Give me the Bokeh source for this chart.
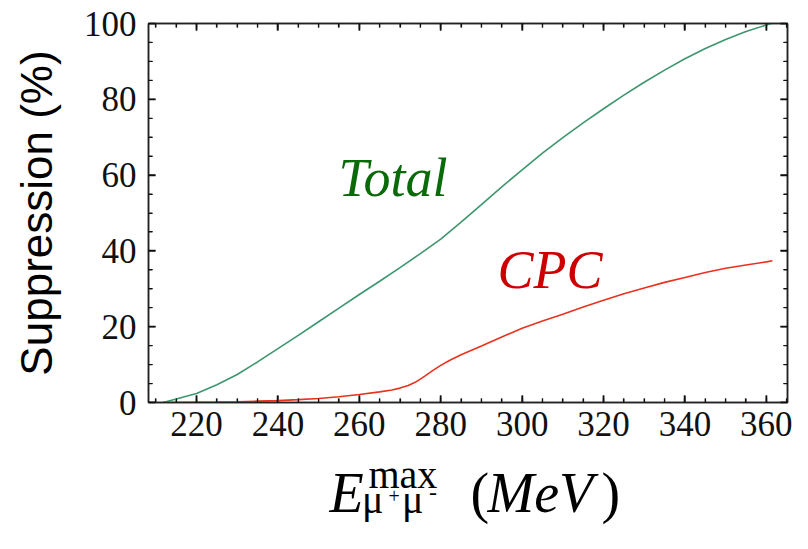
from bokeh.plotting import figure
from bokeh.models import Range1d, SingleIntervalTicker, Label, LinearAxis, CustomJSTickFormatter
from bokeh.layouts import column
from bokeh.embed import file_html
from bokeh.resources import INLINE

# ---- data ----
total_E = [211.8, 215, 220, 225, 230, 235, 240, 245, 250, 255, 260, 265, 270, 275,
           280, 285, 290, 295, 300, 305, 310, 315, 320, 325, 330, 335, 340, 345,
           350, 355, 360, 361.2]
total_S = [0.0, 0.9, 2.4, 4.7, 7.4, 10.7, 14.2, 17.7, 21.3, 24.9, 28.5, 32.0, 35.6, 39.3,
           43.1, 47.6, 52.2, 56.9, 61.4, 65.8, 69.9, 73.8, 77.5, 81.1, 84.5, 87.7, 90.7, 93.4,
           95.8, 97.9, 99.6, 100.0]

cpc_E = [211.8, 215, 220, 225, 230, 235, 240, 245, 250, 255, 260, 265, 268, 270, 272,
         274, 276, 278, 280, 282, 285, 288, 290, 295, 300, 305, 310, 315, 320, 325,
         330, 335, 340, 345, 350, 355, 360, 361.5]
cpc_S = [0.0, 0.0, 0.05, 0.1, 0.2, 0.35, 0.5, 0.75, 1.05, 1.5, 2.1, 2.8, 3.3, 3.8, 4.5,
         5.5, 6.9, 8.4, 9.8, 11.0, 12.6, 14.0, 14.9, 17.3, 19.6, 21.5, 23.3, 25.2, 27.0, 28.7,
         30.2, 31.7, 33.0, 34.3, 35.4, 36.3, 37.1, 37.4]

# tick values
x_major = [220, 240, 260, 280, 300, 320, 340, 360]
x_minor = [210, 215, 225, 230, 235, 245, 250, 255, 265, 270, 275, 285, 290, 295,
           305, 310, 315, 325, 330, 335, 345, 350, 355, 365]
y_major = [0, 20, 40, 60, 80, 100]
y_minor = [5, 10, 15, 25, 30, 35, 45, 50, 55, 65, 70, 75, 85, 90, 95]

X0, X1 = 208.2, 365.2
Y0, Y1 = 0, 100

SERIF = "Liberation Serif"
SANS = "Liberation Sans"
BL, BR, BT, BB = 148, 21, 23, 48
PH = 450
FRAME_H = PH - BT - BB
FRAME_W = 808 - BL - BR
PX_X = FRAME_W / (X1 - X0)     # px per MeV
PX_Y = FRAME_H / (Y1 - Y0)     # px per %
BASE = 0.34                    # baseline correction (fraction of font size)

p = figure(width=808, height=PH, output_backend="svg", toolbar_location=None,
           x_range=Range1d(X0, X1), y_range=Range1d(Y0, Y1),
           min_border_left=BL, min_border_right=BR, min_border_top=BT,
           min_border_bottom=BB)
p.background_fill_color = "white"
p.border_fill_color = "white"
p.grid.visible = False
p.outline_line_color = "#222222"
p.outline_line_width = 1.5

xt = SingleIntervalTicker(interval=20, num_minor_ticks=4)
yt = SingleIntervalTicker(interval=20, num_minor_ticks=4)
p.xaxis.ticker = xt
p.yaxis.ticker = yt


def style_axis(ax):
    ax.axis_line_color = "#222222"
    ax.axis_line_width = 1.5
    ax.major_tick_line_color = "#111111"
    ax.minor_tick_line_color = "#111111"
    ax.major_tick_line_width = 1.5
    ax.minor_tick_line_width = 1.2
    ax.major_tick_out = 0
    ax.minor_tick_out = 0
    ax.major_tick_in = 7
    ax.minor_tick_in = 4


for ax in (p.xaxis[0], p.yaxis[0]):
    style_axis(ax)
    ax.major_label_text_font = SERIF
    ax.major_label_text_font_size = "35px"
    ax.major_label_text_color = "#111111"

p.xaxis.major_label_standoff = 9
p.yaxis.major_label_standoff = 12
p.yaxis.axis_label = "Suppression (%)"
p.yaxis.axis_label_text_font = SANS
p.yaxis.axis_label_text_font_style = "normal"
p.yaxis.axis_label_text_font_size = "44px"
p.yaxis.axis_label_text_color = "black"
p.yaxis.axis_label_standoff = 20

blank = CustomJSTickFormatter(code="return ''")
for loc, tk in (("above", xt), ("right", yt)):
    ax = LinearAxis(ticker=tk, formatter=blank)
    style_axis(ax)
    ax.major_label_standoff = 0
    p.add_layout(ax, loc)

# inward ticks on all four sides (also drawn as glyphs)
TK = "#111111"
maj_y, min_y = 7 / PX_Y, 4 / PX_Y
maj_x, min_x = 7 / PX_X, 4 / PX_X
for vals, ln, w in ((x_major, maj_y, 1.5), (x_minor, min_y, 1.2)):
    p.segment(x0=vals, y0=[Y0] * len(vals), x1=vals, y1=[Y0 + ln] * len(vals),
              line_color=TK, line_width=w)
    p.segment(x0=vals, y0=[Y1] * len(vals), x1=vals, y1=[Y1 - ln] * len(vals),
              line_color=TK, line_width=w)
for vals, ln, w in ((y_major, maj_x, 1.5), (y_minor, min_x, 1.2)):
    p.segment(x0=[X0] * len(vals), y0=vals, x1=[X0 + ln] * len(vals), y1=vals,
              line_color=TK, line_width=w)
    p.segment(x0=[X1] * len(vals), y0=vals, x1=[X1 - ln] * len(vals), y1=vals,
              line_color=TK, line_width=w)

p.line(total_E, total_S, line_color="#3e966e", line_width=1.6)
p.line(cpc_E, cpc_S, line_color="#e8321e", line_width=1.6)


def name(px_left, px_base, txt, color):
    size = 54
    x = X0 + (px_left - BL) / PX_X
    y = Y0 + (BT + FRAME_H - (px_base - BASE * size)) / PX_Y
    p.add_layout(Label(x=x, y=y, text=txt, text_font=SERIF, text_font_style="italic",
                       text_font_size=f"{size}px", text_color=color,
                       text_baseline="alphabetic"))


name(338, 196, "Total", "#0a6a0a")
name(497, 288, "CPC", "#cc0000")

# x-axis title: a strip below the plot whose data coordinates equal page pixels
q = figure(width=808, height=549 - PH, output_backend="svg", toolbar_location=None,
           x_range=Range1d(BL, 808 - BR), y_range=Range1d(549, PH),
           x_axis_location=None, y_axis_location=None,
           min_border_left=BL, min_border_right=BR,
           min_border_top=0, min_border_bottom=0)
q.grid.visible = False
q.outline_line_color = None
q.background_fill_color = "white"
q.border_fill_color = "white"


def piece(px, py, txt, size, style="normal"):
    q.add_layout(Label(x=px, y=py - BASE * size, text=txt, text_font=SERIF,
                       text_font_style=style, text_font_size=f"{size}px",
                       text_color="black", text_baseline="alphabetic", text_align="left"))


piece(329, 511.7, "E", 56, "italic")
piece(368, 488, "max", 40)
piece(361.5, 513, "\u03bc", 40)
piece(388, 502.5, "+", 20)
piece(401.5, 513, "\u03bc", 40)
piece(428.5, 500.5, "-", 24)
piece(470, 511.7, "(", 56)
piece(487, 511.7, "MeV", 56, "italic")
piece(601, 511.7, ")", 56)

layout = column(p, q, spacing=0)
open("out.html", "w").write(file_html(layout, INLINE))
